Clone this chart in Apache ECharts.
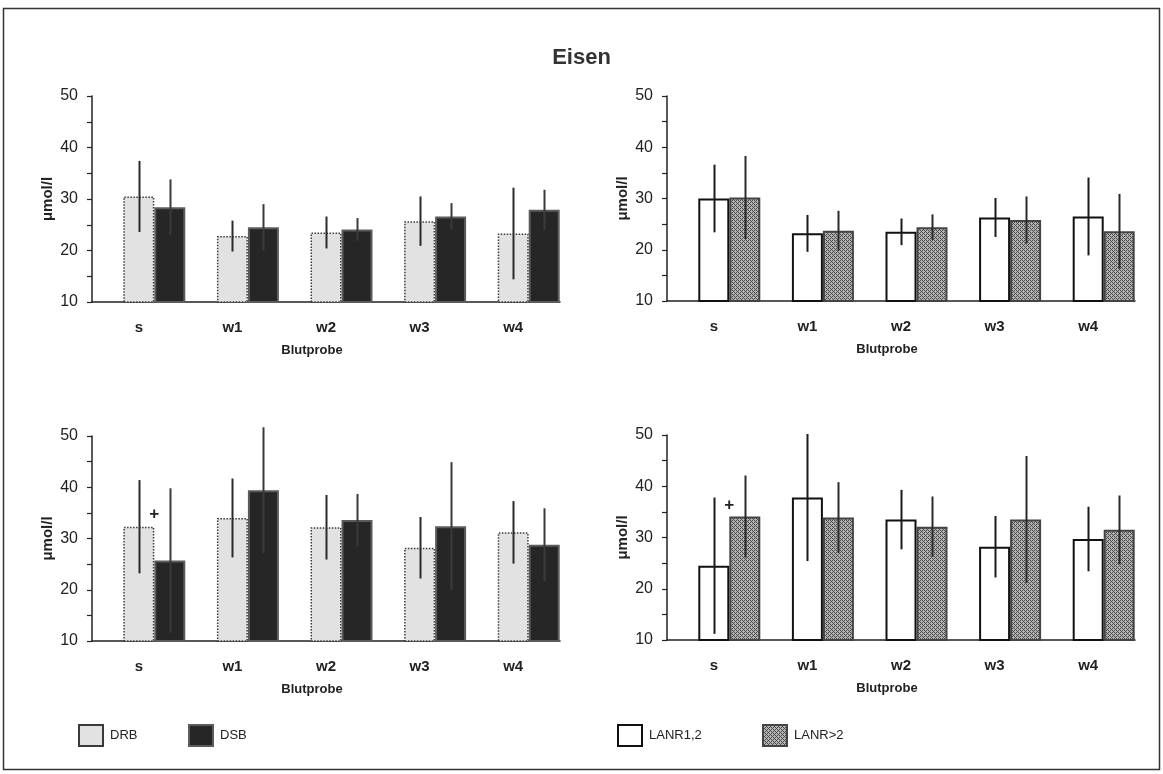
<!DOCTYPE html>
<html>
<head>
<meta charset="utf-8">
<script src="https://cdn.jsdelivr.net/npm/echarts@6/dist/echarts.min.js"></script>
<style>
html,body{margin:0;padding:0;background:#fff;}
#chart{width:1163px;height:774px;}
</style>
</head>
<body>
<div id="chart"></div>
<script>
// ---- data ----
const categories = ['s', 'w1', 'w2', 'w3', 'w4'];
const yTicks = [10, 20, 30, 40, 50];

// top-left: DRB vs DSB
const drbTopMean = [30.5, 22.8, 23.5, 25.7, 23.3];
const drbTopSd   = [6.9, 3.0, 3.1, 4.8, 8.9];
const dsbTopMean = [28.4, 24.5, 24.1, 26.6, 27.9];
const dsbTopSd   = [5.4, 4.5, 2.2, 2.6, 3.9];

// top-right: LANR1,2 vs LANR>2
const l12TopMean = [30.0, 23.2, 23.5, 26.3, 26.5];
const l12TopSd   = [6.6, 3.6, 2.6, 3.8, 7.6];
const l2TopMean  = [30.2, 23.7, 24.4, 25.8, 23.6];
const l2TopSd    = [8.1, 3.9, 2.5, 4.6, 7.3];

// bottom-left: DRB vs DSB
const drbBotMean = [32.3, 34.0, 32.2, 28.2, 31.2];
const drbBotSd   = [9.1, 7.7, 6.3, 6.0, 6.1];
const dsbBotMean = [25.7, 39.4, 33.6, 32.4, 28.8];
const dsbBotSd   = [14.1, 12.3, 5.1, 12.5, 7.1];

// bottom-right: LANR1,2 vs LANR>2
const l12BotMean = [24.5, 37.8, 33.5, 28.2, 29.7];
const l12BotSd   = [13.3, 12.4, 5.8, 6.0, 6.3];
const l2BotMean  = [34.1, 33.9, 32.1, 33.5, 31.5];
const l2BotSd    = [8.0, 6.9, 5.9, 12.4, 6.7];

// significance markers "+": [category index, value]
const plusBotLeft  = [[0, 34.8]];
const plusBotRight = [[0, 36.3]];

// ---- styling / layout ----
const FONT = "'Liberation Sans', Arial, sans-serif";
const BAR_W = 31;

function hatchPattern() {
  const c = document.createElement('canvas');
  c.width = 4; c.height = 4;
  const ctx = c.getContext('2d');
  ctx.fillStyle = '#b4b4b4';
  ctx.fillRect(0, 0, 4, 4);
  ctx.fillStyle = '#4a4a4a';
  for (let x = 0; x < 4; x++) for (let y = 0; y < 4; y++) {
    if ((x + y) % 4 === 0 || (x - y + 4) % 4 === 2) ctx.fillRect(x, y, 1, 1);
  }
  return { image: c, repeat: 'repeat' };
}
const HATCH = hatchPattern();

const STY = {
  DRB: { color: '#e2e2e2', borderColor: '#3a3a3a', borderWidth: 1.5, borderType: 'dotted' },
  DSB: { color: '#262626', borderColor: '#5c5c5c', borderWidth: 2 },
  'LANR1,2': { color: '#ffffff', borderColor: '#111111', borderWidth: 2 },
  'LANR>2': { color: HATCH, borderColor: '#444444', borderWidth: 2 }
};

const grids = [
  { left: 92, top: 96, width: 468, height: 206 },
  { left: 667, top: 96, width: 468, height: 205 },
  { left: 92, top: 436, width: 468, height: 205 },
  { left: 667, top: 435, width: 468, height: 205 }
];

const xAxes = grids.map((g, i) => ({
  type: 'category', gridIndex: i, data: categories,
  axisTick: { show: false },
  axisLine: { lineStyle: { color: '#222', width: 1.5 } },
  axisLabel: { margin: 18, fontSize: 15, fontWeight: 'bold', color: '#222', fontFamily: FONT },
  name: 'Blutprobe', nameLocation: 'middle', nameGap: 42,
  nameTextStyle: { fontSize: 13, fontWeight: 'bold', color: '#222', fontFamily: FONT, padding: [0, 28, 0, 0] }
}));

const yAxes = grids.map((g, i) => ({
  type: 'value', gridIndex: i, min: yTicks[0], max: yTicks[yTicks.length - 1], interval: 10,
  splitLine: { show: false },
  axisLine: { show: true, lineStyle: { color: '#222', width: 1.5 } },
  axisTick: { show: true, length: 5, lineStyle: { color: '#222', width: 1.2 } },
  minorTick: { show: true, splitNumber: 2, length: 5, lineStyle: { color: '#222', width: 1.2 } },
  minorSplitLine: { show: false },
  axisLabel: { margin: 14, fontSize: 16, color: '#222', fontFamily: FONT },
  name: 'μmol/l', nameLocation: 'middle', nameGap: 37, nameRotate: 90,
  nameTextStyle: { fontSize: 15, fontWeight: 'bold', color: '#222', fontFamily: FONT }
}));

function padSeries(gi) {
  return { type: 'bar', name: '_pad' + gi, xAxisIndex: gi, yAxisIndex: gi,
    data: categories.map(() => '-'), barWidth: BAR_W, barGap: '0%', silent: true };
}
function barSeries(name, gi, means) {
  return { type: 'bar', name: name, xAxisIndex: gi, yAxisIndex: gi, data: means,
    barWidth: BAR_W, barGap: '0%', itemStyle: STY[name], z: 2 };
}
function errSeries(gi, means, sds, offset, color) {
  return {
    type: 'custom', xAxisIndex: gi, yAxisIndex: gi, z: 5, clip: false, silent: true,
    data: means.map((m, i) => [i, m, sds[i]]),
    encode: { x: 0, y: 1 },
    renderItem: function (params, api) {
      const i = api.value(0), m = api.value(1), s = api.value(2);
      const top = api.coord([i, m + s]);
      const bot = api.coord([i, m - s]);
      const x = Math.round(top[0] + offset) + 0.5;
      return { type: 'line', shape: { x1: x, y1: top[1], x2: x, y2: bot[1] },
        style: { stroke: color, lineWidth: 2 } };
    }
  };
}
function plusSeries(gi, pts) {
  return {
    type: 'custom', xAxisIndex: gi, yAxisIndex: gi, z: 6, clip: false, silent: true,
    data: pts, encode: { x: 0, y: 1 },
    renderItem: function (params, api) {
      const p = api.coord([api.value(0), api.value(1)]);
      return { type: 'text', style: { text: '+', x: p[0] + BAR_W / 2, y: p[1],
        align: 'center', verticalAlign: 'middle', font: 'bold 17px ' + FONT, fill: '#222' } };
    }
  };
}

const series = [
  padSeries(0), barSeries('DRB', 0, drbTopMean), barSeries('DSB', 0, dsbTopMean),
  errSeries(0, drbTopMean, drbTopSd, 0, '#2a2a2a'), errSeries(0, dsbTopMean, dsbTopSd, BAR_W, '#3a3a3a'),

  padSeries(1), barSeries('LANR1,2', 1, l12TopMean), barSeries('LANR>2', 1, l2TopMean),
  errSeries(1, l12TopMean, l12TopSd, 0, '#1a1a1a'), errSeries(1, l2TopMean, l2TopSd, BAR_W, '#2a2a2a'),

  padSeries(2), barSeries('DRB', 2, drbBotMean), barSeries('DSB', 2, dsbBotMean),
  errSeries(2, drbBotMean, drbBotSd, 0, '#2a2a2a'), errSeries(2, dsbBotMean, dsbBotSd, BAR_W, '#3a3a3a'),
  plusSeries(2, plusBotLeft),

  padSeries(3), barSeries('LANR1,2', 3, l12BotMean), barSeries('LANR>2', 3, l2BotMean),
  errSeries(3, l12BotMean, l12BotSd, 0, '#1a1a1a'), errSeries(3, l2BotMean, l2BotSd, BAR_W, '#2a2a2a'),
  plusSeries(3, plusBotRight)
];

function legendAt(name, left) {
  return { data: [name], left: left, top: 724, padding: 0, itemWidth: 24, itemHeight: 21, selectedMode: false,
    icon: 'rect', textStyle: { fontSize: 13, color: '#222', fontFamily: FONT, padding: [0, 0, 0, 2] } };
}

const option = {
  animation: false,
  backgroundColor: '#ffffff',
  title: { text: 'Eisen', left: 'center', top: 42,
    textStyle: { fontSize: 22, fontWeight: 'bold', color: '#333', fontFamily: FONT } },
  grid: grids,
  xAxis: xAxes,
  yAxis: yAxes,
  legend: [legendAt('DRB', 78), legendAt('DSB', 188), legendAt('LANR1,2', 617), legendAt('LANR>2', 762)],
  graphic: [{ type: 'rect', shape: { x: 3.5, y: 8.5, width: 1156, height: 761 },
    style: { fill: 'none', stroke: '#333', lineWidth: 1.5 }, silent: true }],
  series: series
};

const chart = echarts.init(document.getElementById('chart'), null, { renderer: 'canvas' });
chart.setOption(option);
</script>
</body>
</html>
